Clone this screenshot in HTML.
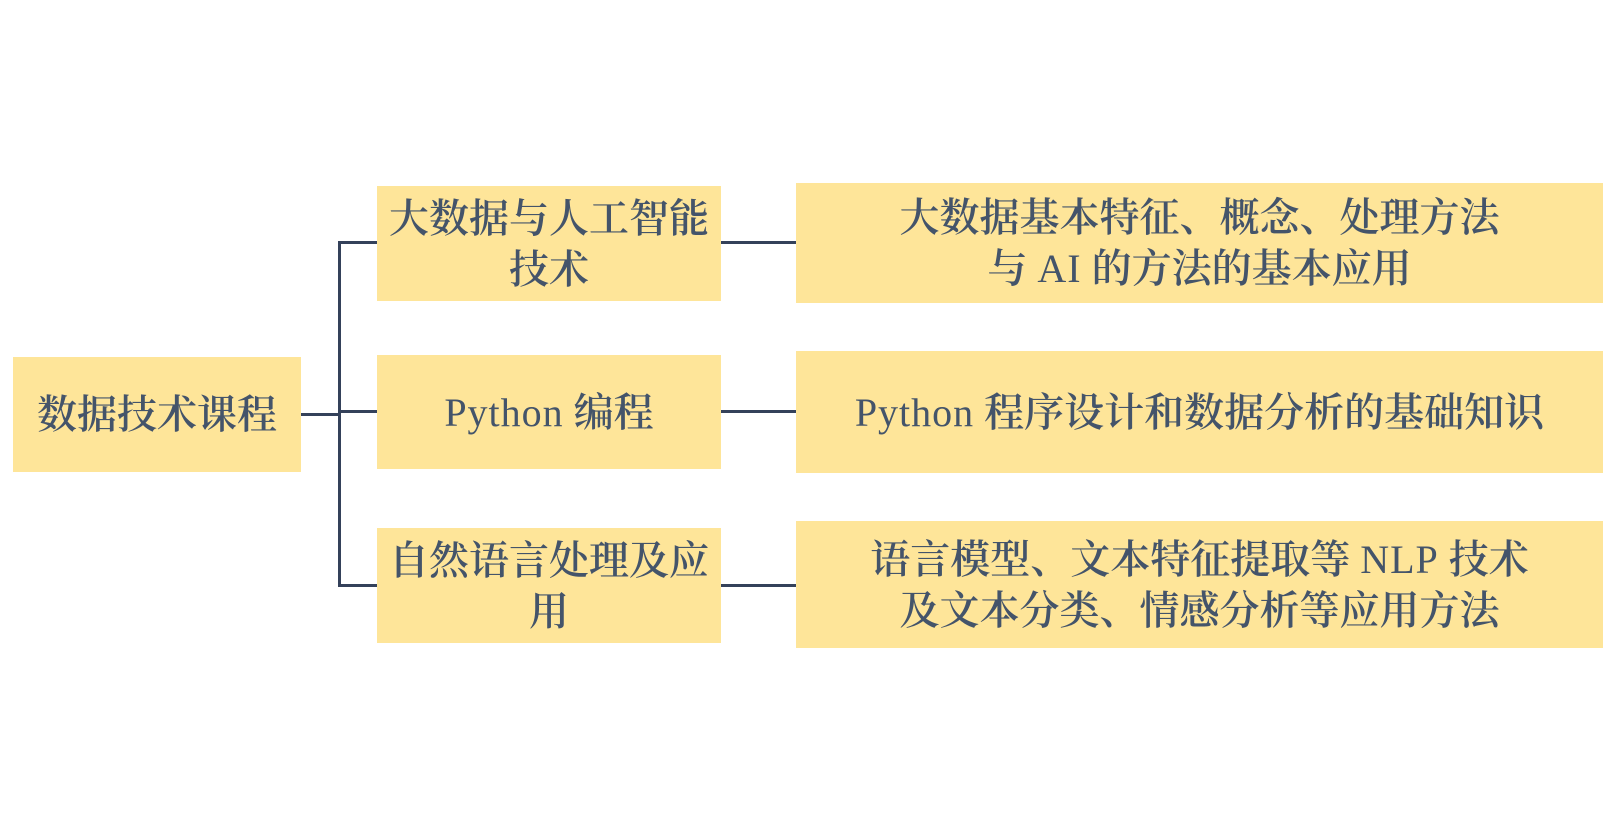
<!DOCTYPE html>
<html><head><meta charset="utf-8"><style>
body{margin:0;width:1603px;height:833px;background:#fff;position:relative;overflow:hidden;font-family:"Liberation Serif","Noto Serif CJK SC",serif;}
.b{position:absolute;background:#fee599;color:#44546a;display:flex;align-items:center;justify-content:center;text-align:center;font-size:40px;line-height:51px;font-weight:600;}
.b span{font-weight:normal;letter-spacing:1px;}
.l{position:absolute;background:#34415a;}
</style></head><body>
<div class="b" style="left:13px;top:357px;width:288px;height:115px;"><div>数据技术课程</div></div>
<div class="b" style="left:377px;top:186px;width:344px;height:115px;"><div>大数据与人工智能<br>技术</div></div>
<div class="b" style="left:377px;top:355px;width:344px;height:114px;"><div><span>Python</span> 编程</div></div>
<div class="b" style="left:377px;top:528px;width:344px;height:115px;"><div>自然语言处理及应<br>用</div></div>
<div class="b" style="left:796px;top:183px;width:807px;height:120px;"><div>大数据基本特征、概念、处理方法<br>与 <span>AI</span> 的方法的基本应用</div></div>
<div class="b" style="left:796px;top:351px;width:807px;height:122px;"><div><span>Python</span> 程序设计和数据分析的基础知识</div></div>
<div class="b" style="left:796px;top:521px;width:807px;height:127px;"><div>语言模型、文本特征提取等 <span>NLP</span> 技术<br>及文本分类、情感分析等应用方法</div></div>
<div class="l" style="left:301px;top:413px;width:39px;height:3px;"></div>
<div class="l" style="left:338px;top:241px;width:3px;height:346px;"></div>
<div class="l" style="left:338px;top:241px;width:39px;height:3px;"></div>
<div class="l" style="left:338px;top:410px;width:39px;height:3px;"></div>
<div class="l" style="left:338px;top:584px;width:39px;height:3px;"></div>
<div class="l" style="left:721px;top:241px;width:75px;height:3px;"></div>
<div class="l" style="left:721px;top:410px;width:75px;height:3px;"></div>
<div class="l" style="left:721px;top:584px;width:75px;height:3px;"></div>
</body></html>
